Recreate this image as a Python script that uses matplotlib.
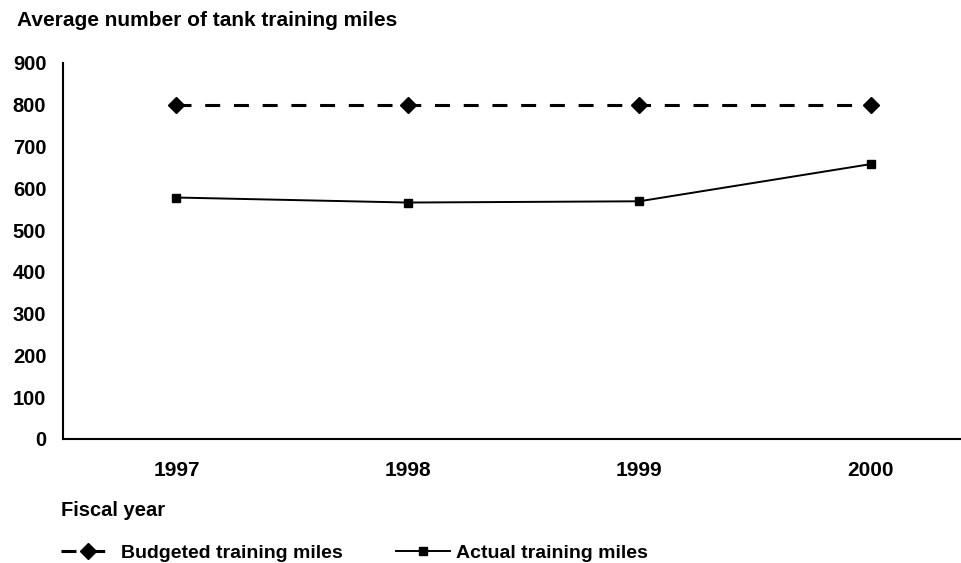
import matplotlib
matplotlib.use("Agg")
import matplotlib.pyplot as plt

years = ["1997", "1998", "1999", "2000"]
budgeted = [800, 800, 800, 800]
actual = [578, 566, 569, 658]
yticks = [0, 100, 200, 300, 400, 500, 600, 700, 800, 900]

plt.rcParams['font.family'] = ['Liberation Sans', 'DejaVu Sans']

W, H = 961, 563
fig = plt.figure(figsize=(W / 100, H / 100), dpi=100)
ax_left, ax_bottom, ax_right, ax_top = 63, 439, 961, 63
ax = fig.add_axes([ax_left / W, 1 - ax_bottom / H,
                   (ax_right - ax_left) / W, (ax_bottom - ax_top) / H])

x = list(range(len(years)))
ax.plot(x, budgeted, color='black', lw=2.2, linestyle=(0, (4.9, 4.5)),
        marker='D', markersize=7.8, label='Budgeted training miles')
ax.plot(x, actual, color='black', lw=1.4, linestyle='-',
        marker='s', markersize=5.5, label='Actual training miles')

ax.set_xlim(-0.49, 3.39)
ax.set_ylim(0, 900)
ax.set_yticks(yticks)
ax.set_yticklabels([str(v) for v in yticks], fontsize=14.5, fontweight='bold')
ax.set_xticks(x)
ax.set_xticklabels(years, fontsize=15, fontweight='bold')
ax.tick_params(axis='both', length=0)
ax.tick_params(axis='y', pad=12)
ax.tick_params(axis='x', pad=16)
for s in ['top', 'right']:
    ax.spines[s].set_visible(False)
for s in ['left', 'bottom']:
    ax.spines[s].set_linewidth(1.5)

fig.text(17 / W, 1 - 21 / H, "Average number of tank training miles", fontsize=15,
         fontweight='bold', va='center', ha='left')
fig.text(61 / W, 1 - 510 / H, "Fiscal year", fontsize=14.5, fontweight='bold',
         va='center', ha='left')

fig.legend(loc='center left', bbox_to_anchor=(61 / W, 1 - 553 / H), ncol=2,
           frameon=False, handlelength=2.8, handletextpad=0.3,
           columnspacing=2.7, borderpad=0, borderaxespad=0,
           prop={'weight': 'bold', 'size': 14})

fig.savefig("out.png", dpi=100)
